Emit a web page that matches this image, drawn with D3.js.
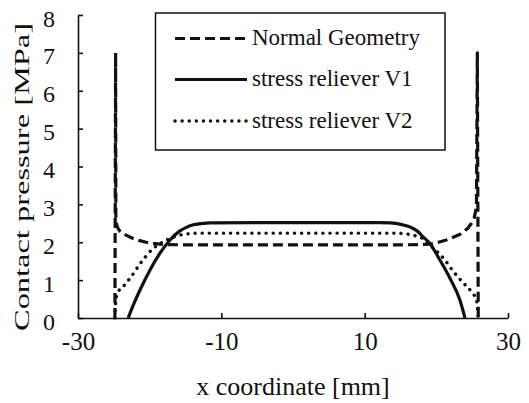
<!DOCTYPE html>
<html>
<head>
<meta charset="utf-8">
<script src="https://cdn.jsdelivr.net/npm/d3@7"></script>
<style>
  html, body { margin: 0; padding: 0; background: #fff; }
  svg { display: block; }
  text { font-family: "Liberation Serif"; fill: #111; }
</style>
</head>
<body>
<svg id="chart" width="529" height="403"></svg>
<script>
// ---- Data ----
const seriesNames = ["Normal Geometry", "stress reliever V1", "stress reliever V2"];

const normalX = [-24.85, -24.75, -24.72, -24.6, -24.4, -24.1, -23.6, -23.0, -22.3, -21.5, -20.5, -19.5, -18.5, -17.6, -15, -10, -5, 0, 5, 10, 15, 17.5, 19.1, 20.3, 21.4, 22.6, 23.3, 23.8, 24.4, 24.9, 25.3, 25.6, 25.72, 25.85];
const normalY = [0, 7.0, 2.65, 2.45, 2.36, 2.28, 2.22, 2.16, 2.10, 2.05, 2.0, 1.97, 1.95, 1.94, 1.93, 1.93, 1.93, 1.93, 1.93, 1.93, 1.93, 1.94, 1.95, 2.0, 2.06, 2.15, 2.21, 2.28, 2.37, 2.5, 2.65, 2.94, 7.0, 0];

const v1X = [-23.0, -22.2, -21.35, -19.95, -18.56, -17.16, -15.77, -14.8, -13.9, -12.5, -11.6, -5, 0, 5, 10, 12.1, 13.6, 14.9, 15.9, 16.7, 17.5, 18.1, 19.1, 20.5, 21.9, 23.3, 24.0];
const v1Y = [0, 0.38, 0.74, 1.27, 1.71, 2.06, 2.30, 2.40, 2.46, 2.50, 2.51, 2.52, 2.52, 2.52, 2.52, 2.52, 2.51, 2.48, 2.43, 2.37, 2.27, 2.15, 1.97, 1.53, 1.05, 0.47, 0];

const v2X = [-24.85, -24.7, -24.38, -23.6, -22.74, -21.11, -19.49, -18.1, -16.9, -15.77, -13.0, -10, 0, 10, 14.5, 15.8, 16.7, 17.4, 18.1, 19.6, 21.0, 22.4, 23.8, 24.9, 25.6, 25.85];
const v2Y = [0, 0.5, 0.69, 0.85, 1.05, 1.49, 1.84, 2.01, 2.12, 2.19, 2.24, 2.24, 2.24, 2.24, 2.24, 2.22, 2.19, 2.15, 2.10, 1.84, 1.58, 1.22, 0.92, 0.69, 0.47, 0];

const xTicks = [-30, -10, 10, 30];
const yTicks = [0, 1, 2, 3, 4, 5, 6, 7, 8];
const xTitle = "x coordinate [mm]";
const yTitle = "Contact pressure  [MPa]";

// ---- Drawing ----
const FONT = "Liberation Serif";
const svg = d3.select("#chart");
const ink = "#111";

const x = d3.scaleLinear().domain([-30, 30]).range([78, 508]);
const y = d3.scaleLinear().domain([0, 8]).range([318, 15]);

// Axes
const xAxis = d3.axisBottom(x).tickValues(xTicks).tickSizeInner(-5).tickSizeOuter(0).tickFormat(d3.format("d"));
const gx = svg.append("g").attr("transform", `translate(0,${y(0)})`).call(xAxis)
  .attr("font-family", FONT).attr("font-size", 25);
gx.select(".domain").attr("stroke", ink).attr("stroke-width", 1.6).attr("fill", "none");
gx.selectAll(".tick line").attr("stroke", ink).attr("stroke-width", 1.6);
gx.selectAll(".tick text")
  .attr("y", 0).attr("dy", 0)
  .attr("transform", "translate(0,32)")
  .style("font-family", FONT)
  .style("font-size", "25px").attr("fill", ink)
  .text(d => d < 0 ? "-" + Math.abs(d) : String(d));

const yAxis = d3.axisLeft(y).tickValues(yTicks).tickSizeInner(-5).tickSizeOuter(0).tickFormat(d3.format("d"));
const gy = svg.append("g").attr("transform", `translate(${x(-30)},0)`).call(yAxis)
  .attr("font-family", FONT).attr("font-size", 24);
gy.select(".domain").attr("stroke", ink).attr("stroke-width", 1.6).attr("fill", "none");
gy.selectAll(".tick line").attr("stroke", ink).attr("stroke-width", 1.6);
gy.selectAll(".tick text")
  .attr("x", -23).attr("dy", 0).attr("y", 11)
  .style("font-family", FONT)
  .style("font-size", "24px").attr("fill", ink).attr("text-anchor", "end");

// Titles
svg.append("text")
  .attr("x", (x(-30) + x(30)) / 2).attr("y", 395)
  .attr("text-anchor", "middle")
  .style("font-family", FONT)
  .style("font-size", "26px")
  .text(xTitle);

svg.append("text")
  .attr("transform", "translate(29,177) rotate(-90)")
  .attr("text-anchor", "middle")
  .style("font-family", FONT)
  .style("font-size", "22px")
  .attr("textLength", 308)
  .attr("lengthAdjust", "spacingAndGlyphs")
  .text(yTitle);

// Series
const toPts = (xs, ys) => xs.map((v, i) => [v, ys[i]]);
const line = d3.line().x(d => x(d[0])).y(d => y(d[1])).curve(d3.curveLinear);
const smooth = d3.line().x(d => x(d[0])).y(d => y(d[1])).curve(d3.curveMonotoneX);

const styles = [
  { dash: "10,5", cap: "butt", width: 3.2 },
  { dash: null, cap: "butt", width: 3.2 },
  { dash: "0.1,7", cap: "round", width: 3.4 }
];

svg.append("path").attr("d", smooth(toPts(v2X, v2Y)))
  .attr("fill", "none").attr("stroke", ink).attr("stroke-width", styles[2].width)
  .attr("stroke-dasharray", styles[2].dash).attr("stroke-linecap", styles[2].cap);
svg.append("path").attr("d", smooth(toPts(v1X, v1Y)))
  .attr("fill", "none").attr("stroke", ink).attr("stroke-width", styles[1].width)
  .attr("stroke-linejoin", "round");
svg.append("path").attr("d", line(toPts(normalX, normalY)))
  .attr("fill", "none").attr("stroke", ink).attr("stroke-width", styles[0].width)
  .attr("stroke-dasharray", styles[0].dash).attr("stroke-linecap", styles[0].cap)
  .attr("stroke-linejoin", "round");

// Legend
const leg = svg.append("g");
leg.append("rect").attr("x", 155.5).attr("y", 13).attr("width", 289.5).attr("height", 137)
  .attr("fill", "#fff").attr("stroke", ink).attr("stroke-width", 1.5);
const rowY = [38.5, 79.5, 121];
seriesNames.forEach((name, i) => {
  leg.append("line").attr("x1", 175).attr("x2", 247).attr("y1", rowY[i]).attr("y2", rowY[i])
    .attr("stroke", ink).attr("stroke-width", styles[i].width)
    .attr("stroke-dasharray", styles[i].dash).attr("stroke-linecap", styles[i].cap);
  leg.append("text").attr("x", 252).attr("y", rowY[i] + 6.5)
    .style("font-family", FONT)
    .style("font-size", "23px").text(name);
});
</script>
</body>
</html>
